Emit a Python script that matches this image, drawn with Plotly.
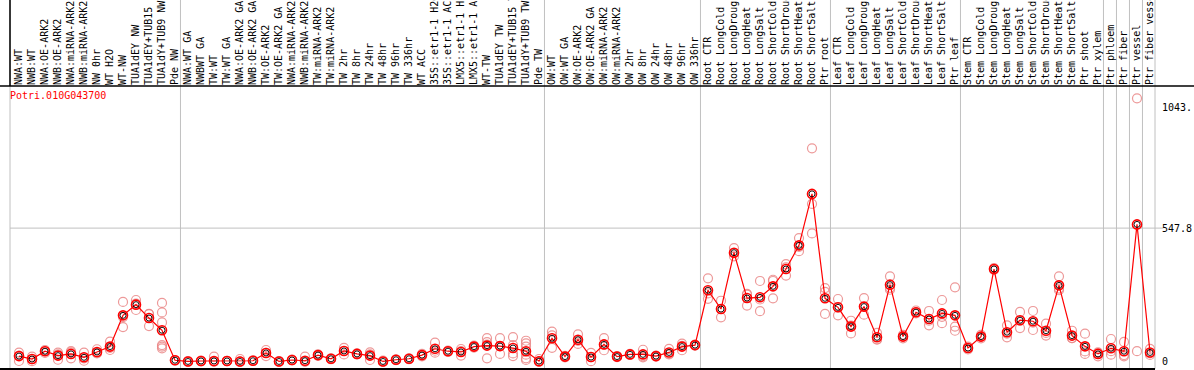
import plotly.graph_objects as go

labels = [
    "NWA:WT", "NWB:WT", "NWA:OE-ARK2", "NWB:OE-ARK2", "NWA:miRNA-ARK2", "NWB:miRNA-ARK2",
    "NW 0hr", "WT H2O", "WT-NW", "TUA1dEY NW", "TUA1dEY+TUB15 NW", "TUA1dY+TUB9 NW", "Pde NW",
    "NWA:WT GA", "NWBWT GA", "TW:WT", "TW:WT GA", "NWA:OE-ARK2 GA", "NWB:OE-ARK2 GA",
    "TW:OE-ARK2", "TW:OE-ARK2 GA", "NWA:miRNA-ARK2", "NWB:miRNA-ARK2", "TW:miRNA-ARK2",
    "TW:miRNA-ARK2", "TW 2hr", "TW 8hr", "TW 24hr", "TW 48hr", "TW 96hr", "TW 336hr", "WT ACC",
    "35S::etr1-1 H2O", "35S::etr1-1 ACC", "LMX5::etr1-1 H2O", "LMX5::etr1-1 ACC", "WT-TW",
    "TUA1dEY TW", "TUA1dEY+TUB15 TW", "TUA1dY+TUB9 TW", "Pde TW",
    "OW:WT", "OW:WT GA", "OW:OE-ARK2", "OW:OE-ARK2 GA", "OW:miRNA-ARK2", "OW:miRNA-ARK2",
    "OW 2hr", "OW 8hr", "OW 24hr", "OW 48hr", "OW 96hr", "OW 336hr",
    "Root CTR", "Root LongCold", "Root LongDrought", "Root LongHeat", "Root LongSalt",
    "Root ShortCold", "Root ShortDrought", "Root ShortHeat", "Root ShortSalt", "Ptr root",
    "Leaf CTR", "Leaf LongCold", "Leaf LongDrought", "Leaf LongHeat", "Leaf LongSalt",
    "Leaf ShortCold", "Leaf ShortDrought", "Leaf ShortHeat", "Leaf ShortSalt", "Ptr leaf",
    "Stem CTR", "Stem LongCold", "Stem LongDrought", "Stem LongHeat", "Stem LongSalt",
    "Stem ShortCold", "Stem ShortDrought", "Stem ShortHeat", "Stem ShortSalt", "Ptr shoot",
    "Ptr xylem", "Ptr phloem", "Ptr fiber", "Ptr vessel", "Ptr fiber vessel",
]

means = [
    23, 11, 43, 25, 32, 18, 40, 62, 190, 234, 179, 129, 6,
    1, 3, 3, 3, 1, 4, 36, 1, 7, 4, 27, 12, 44, 32, 25, 1, 8, 12, 27, 53, 43, 40, 62, 66, 64, 56, 43, 2,
    96, 21, 90, 19, 71, 21, 30, 30, 23, 38, 62, 68,
    293, 216, 447, 261, 264, 309, 380, 477, 688, 260,
    223, 144, 226, 100, 316, 103, 203, 175, 198, 190,
    56, 103, 380, 121, 170, 166, 127, 313, 107, 63,
    32, 55, 43, 563, 38,
]

replicates = [
    [37, 25, 3], [21, 10, 2], [48, 44, 36], [37, 30, 8], [43, 38, 14], [37, 14, 4],
    [51, 36, 34], [82, 57, 48], [245, 183, 142], [253, 238, 212], [196, 195, 146],
    [241, 202, 161, 68, 62, 55], [7, 6, 5],
    [2, 1, 0], [5, 3, 1], [21, 0, 0], [4, 3, 2], [11, 0, 0], [6, 4, 3], [48, 36, 23],
    [2, 1, 0], [9, 7, 5], [21, 0, 0], [30, 27, 24], [14, 12, 10], [57, 44, 30], [34, 32, 30],
    [38, 30, 7], [5, 0, 0], [10, 8, 6], [14, 12, 10], [32, 27, 22], [78, 45, 37], [46, 43, 40],
    [52, 43, 25], [66, 62, 58], [97, 80, 70, 14], [97, 64, 32], [101, 68, 34, 23],
    [86, 75, 62, 29, 14, 7], [11, 0, 0],
    [123, 108, 57], [24, 21, 18], [112, 85, 73], [36, 19, 2], [97, 70, 47], [23, 21, 19],
    [32, 30, 28], [49, 22, 18], [25, 23, 21], [53, 32, 30], [74, 65, 47], [70, 68, 66],
    [342, 280, 258], [250, 216, 182], [466, 445, 432], [275, 278, 230], [331, 255, 207],
    [336, 331, 260], [400, 387, 353], [507, 471, 453], [875, 647, 526], [302, 286, 196],
    [257, 223, 190], [168, 148, 116], [261, 225, 193], [118, 92, 90], [350, 303, 295],
    [110, 103, 96], [210, 203, 198], [208, 168, 149], [253, 184, 158], [305, 144, 127],
    [62, 56, 50], [110, 103, 96], [384, 380, 376], [149, 115, 100], [204, 168, 138],
    [208, 160, 130], [156, 118, 107], [350, 300, 293], [127, 97, 97], [115, 42, 32],
    [38, 35, 22], [93, 43, 29], [81, 27, 22], [1080, 43], [53, 35, 28],
]

gene_id = "Potri.010G043700"
y_tick_vals = [0, 547.8, 1043.2]
y_tick_text = ["0", "547.8", "1043."]
group_bounds = [12.42, 40.42, 52.42, 62.42, 72.42, 83.42, 84.42, 85.42, 86.42]

W, H = 1194, 370
ML, MR, MT, MB = 10, 39, 86, 1
PW, PH = W - ML - MR, H - MT - MB
X0, X1 = -0.692, 87.385
Y0, Y1 = -29.9, 1130.4
MONO = "DejaVu Sans Mono"

xs = list(range(len(labels)))
rx, ry = [], []
for i, reps in enumerate(replicates):
    for v in reps:
        rx.append(i)
        ry.append(v)

fig = go.Figure()
fig.add_trace(go.Scatter(
    x=rx, y=ry, mode="markers", hoverinfo="skip",
    marker=dict(symbol="circle-open", size=9, color="rgba(234,135,135,0.85)", line=dict(width=1.2)),
))
fig.add_trace(go.Scatter(
    x=xs, y=means, mode="lines+markers",
    line=dict(color="red", width=1.2),
    marker=dict(symbol="circle-open", size=9, color="red", line=dict(width=1.6)),
))
fig.add_trace(go.Scatter(
    x=xs, y=means, mode="markers", hoverinfo="skip",
    marker=dict(symbol="circle-open", size=6, color="black", line=dict(width=0.9)),
))

def px(xv):
    return (xv - X0) / (X1 - X0)

top = 1 + MT / PH
shapes = []
for b in group_bounds:
    shapes.append(dict(type="line", xref="paper", yref="paper", x0=px(b), x1=px(b), y0=0, y1=top,
                       line=dict(color="#c0c0c0", width=1), layer="below"))
for xp in (0, 1):
    shapes.append(dict(type="line", xref="paper", yref="paper", x0=xp, x1=xp, y0=0, y1=top,
                       line=dict(color="#c0c0c0", width=1), layer="below"))
shapes.append(dict(type="line", xref="paper", yref="y", x0=0, x1=(1163 - ML) / PW, y0=547.8, y1=547.8,
                   line=dict(color="#c0c0c0", width=1), layer="below"))
shapes.append(dict(type="line", xref="paper", yref="paper", x0=-ML / PW, x1=(W - ML) / PW, y0=1, y1=1,
                   line=dict(color="black", width=1.5)))
shapes.append(dict(type="line", xref="paper", yref="paper", x0=0, x1=0, y0=1, y1=top,
                   line=dict(color="black", width=1.5)))
shapes.append(dict(type="line", xref="paper", yref="paper", x0=-ML / PW, x1=1, y0=0, y1=0,
                   line=dict(color="black", width=2)))

fig.update_layout(
    width=W, height=H,
    margin=dict(l=ML, r=MR, t=MT, b=MB, pad=0),
    paper_bgcolor="white", plot_bgcolor="white",
    showlegend=False,
    shapes=shapes,
    xaxis=dict(range=[X0, X1], side="top", tickmode="array", tickvals=xs, ticktext=labels,
               tickangle=-90, tickfont=dict(family=MONO, size=10, color="black"),
               showgrid=False, zeroline=False, showline=False, ticks="", automargin=False),
    yaxis=dict(range=[Y0, Y1], side="right", tickmode="array", tickvals=y_tick_vals,
               ticktext=y_tick_text, tickfont=dict(family=MONO, size=10, color="black"),
               showgrid=False, zeroline=False, showline=False, ticks="", automargin=False,
               ticklabelstandoff=6),
    annotations=[dict(text=gene_id, xref="paper", yref="paper", x=0, y=(H - MB - 95) / PH,
                      xanchor="left", yanchor="middle", showarrow=False, xshift=-2,
                      font=dict(family=MONO, size=10, color="red"))],
)

fig.write_html(
    "out.html",
    config={"displayModeBar": False},
    post_script="document.body.style.margin='0';document.body.style.overflow='hidden';",
)
